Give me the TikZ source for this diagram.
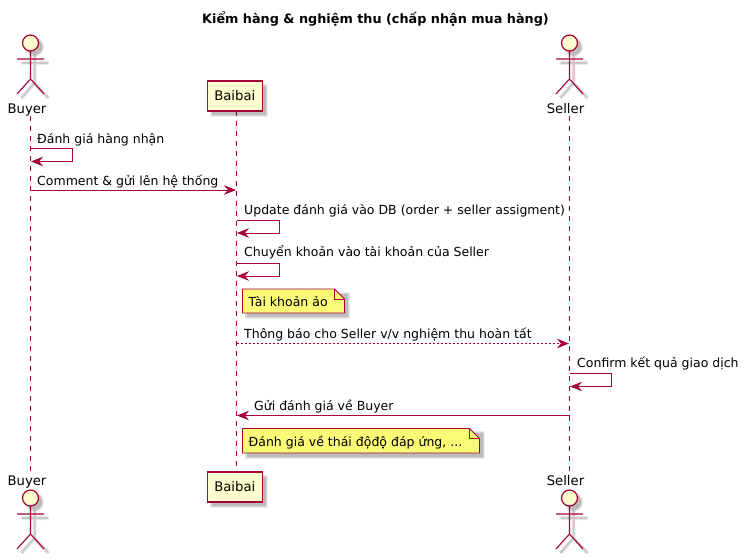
\documentclass[tikz,border=0pt]{standalone}
\usepackage{fontspec}
\setmainfont{DejaVu Sans}
\usetikzlibrary{arrows.meta,shapes.misc}
\definecolor{pline}{HTML}{A80036}
\definecolor{pfill}{HTML}{FEFECE}
\definecolor{nfill}{HTML}{FBFB77}
\definecolor{sh}{HTML}{B8B8B8}
\tikzset{
  life/.style={draw=pline,line width=.8pt,dash pattern=on 5pt off 5pt},
  msg/.style={draw=pline,line width=.9pt,-{Stealth[length=12pt,width=9.5pt,inset=4pt,color=pline]}},
  dmsg/.style={draw=pline,line width=.8pt,dash pattern=on 2pt off 2pt,-{Stealth[length=12pt,width=9.5pt,inset=4pt,color=pline]}},
  lbl/.style={anchor=base west,inner sep=0pt,font=\fontsize{12.5}{15}\selectfont,text=black},
  actorname/.style={anchor=base,inner sep=0pt,font=\fontsize{13.2}{16}\selectfont,text=black},
  partbox/.style={draw=pline,fill=pfill,line width=1.1pt,minimum width=55pt,minimum height=30pt,inner sep=0pt,font=\fontsize{13.2}{16}\selectfont},
  notebody/.style={draw=pline,fill=nfill,line width=.9pt,line join=miter},
  actorline/.style={draw=pline,line width=1.1pt},
  actorhead/.style={draw=pline,fill=pfill,line width=1.2pt},
}
\newcommand{\softrect}[4]{%
  \fill[black,opacity=.07] (#1-1.5,#2-1.5) rectangle (#3+1.5,#4+1.5);
  \fill[black,opacity=.09] (#1-.5,#2-.5) rectangle (#3+.5,#4+.5);
  \fill[black,opacity=.12] (#1+.5,#2+.5) rectangle (#3-.5,#4-.5);}
\newcommand{\actorfig}[2]{%
  \begin{scope}[shift={(#1,#2)}]
    \fill[black,opacity=.10] (4,4) circle (9.5);
    \fill[black,opacity=.18] (4,4) circle (8);
    \draw[black,opacity=.08,line width=4pt] (4,12) -- (4,40) (-9,20) -- (18,20) (4,40) -- (-9,55) (4,40) -- (18,55);
    \draw[black,opacity=.14,line width=2pt] (4,12) -- (4,40) (-9,20) -- (18,20) (4,40) -- (-9,55) (4,40) -- (18,55);
    \draw[actorhead] (0,0) circle (8);
    \draw[actorline] (0,8) -- (0,36) (-13.5,16) -- (13.5,16) (0,36) -- (-13.5,51) (0,36) -- (13.5,51);
  \end{scope}}
\newcommand{\notefig}[4]{%
  \softrect{#1+4}{#2+4}{#3+4}{#4+4}
  \draw[notebody] (#1,#2) -- (#3-10,#2) -- (#3,#2+10) -- (#3,#4) -- (#1,#4) -- cycle;
  \draw[pline,line width=.9pt] (#3-10,#2) -- (#3-10,#2+10) -- (#3,#2+10);}
\begin{document}
\begin{tikzpicture}[x=1pt,y=-1pt]
\useasboundingbox (0,0) rectangle (752,559);
\fill[white] (0,0) rectangle (752,559);
\node[inner sep=0pt,font=\fontsize{12.8}{15}\selectfont\bfseries] (title) at (375.5,19) {Kiểm hàng \& nghiệm thu (chấp nhận mua hàng)};

% participant labels
\node[actorname] (buyerT) at (27,113.5) {Buyer};
\node[actorname] (sellerT) at (565.5,113.5) {Seller};
\node[actorname] (buyerB) at (27,485) {Buyer};
\node[actorname] (sellerB) at (565.5,485) {Seller};

% lifelines
\coordinate (bt) at (30.5,116);
\coordinate (bb) at (30.5,472);
\coordinate (st) at (569.5,116);
\coordinate (sb) at (569.5,472);
\coordinate (mt) at (236.5,111);
\coordinate (mb) at (236.5,472);
\draw[life] (bt) -- (bb);
\draw[life] (mt) -- (mb);
\draw[life] (st) -- (sb);

% actors
\actorfig{30.5}{43}
\actorfig{569.5}{43}
\actorfig{30.5}{498}
\actorfig{569.5}{498}

% Baibai boxes
\softrect{211.5}{85.5}{266.5}{115.5}
\softrect{211.5}{476.5}{266.5}{506.5}
\node[partbox] (baiT) at (234.8,96) {Baibai};
\node[partbox] (baiB) at (234.8,487) {Baibai};

% message points
\coordinate (b1) at (30.5,148.5);
\coordinate (b1r) at (72.5,148.5);
\coordinate (b1s) at (72.5,161.5);
\coordinate (b1e) at (31,161.5);
\coordinate (b2) at (30.5,190);
\coordinate (m2) at (236,190);
\coordinate (m3) at (236.5,220);
\coordinate (m3r) at (279.5,220);
\coordinate (m3s) at (279.5,233);
\coordinate (m3e) at (237,233);
\coordinate (m4) at (236.5,263);
\coordinate (m4r) at (279.5,263);
\coordinate (m4s) at (279.5,276);
\coordinate (m4e) at (237,276);
\coordinate (m5) at (236.5,343.5);
\coordinate (s5) at (569,343.5);
\coordinate (s6) at (569.5,373.5);
\coordinate (s6r) at (611.5,373.5);
\coordinate (s6s) at (611.5,386.5);
\coordinate (s6e) at (570,386.5);
\coordinate (s7) at (569.5,415.5);
\coordinate (m7) at (237,415.5);

\draw[msg] (b1) -- (b1r) -- (b1s) -- (b1e);
\draw[msg] (b2) -- (m2);
\draw[msg] (m3) -- (m3r) -- (m3s) -- (m3e);
\draw[msg] (m4) -- (m4r) -- (m4s) -- (m4e);
\draw[dmsg] (m5) -- (s5);
\draw[msg] (s6) -- (s6r) -- (s6s) -- (s6e);
\draw[msg] (s7) -- (m7);

% labels
\node[lbl] (l1) at (37,143.5) {Đánh giá hàng nhận};
\node[lbl] (l2) at (37,185.5) {Comment \& gửi lên hệ thống};
\node[lbl] (l3) at (244,214.5) {Update đánh giá vào DB (order + seller assigment)};
\node[lbl] (l4) at (244,256.5) {Chuyển khoản vào tài khoản của Seller};
\node[lbl] (l5) at (244,338.5) {Thông báo cho Seller v/v nghiệm thu hoàn tất};
\node[lbl] (l6) at (577,367.5) {Confirm kết quả giao dịch};
\node[lbl] (l7) at (254,410.5) {Gửi đánh giá về Buyer};

% notes
\notefig{242.5}{289}{344.5}{313}
\node[lbl] (n1) at (248.5,306) {Tài khoản ảo};
\notefig{242.5}{428.5}{479.5}{453}
\node[lbl] (n2) at (248.5,446) {Đánh giá về thái độđộ đáp ứng, ...};
\end{tikzpicture}
\end{document}
